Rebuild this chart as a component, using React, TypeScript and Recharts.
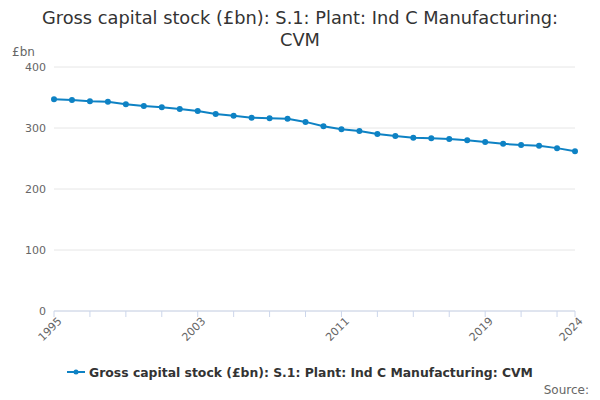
import { LineChart, Line, XAxis, YAxis, CartesianGrid } from "recharts";

const years = [
  1995, 1996, 1997, 1998, 1999, 2000, 2001, 2002, 2003, 2004, 2005, 2006, 2007, 2008, 2009,
  2010, 2011, 2012, 2013, 2014, 2015, 2016, 2017, 2018, 2019, 2020, 2021, 2022, 2023, 2024,
];
const values = [
  347, 346, 344, 343, 339, 336, 334, 331, 328, 323, 320, 317, 316, 315, 310,
  303, 298, 295, 290, 287, 284, 283, 282, 280, 277, 274, 272, 271, 267, 262,
];
const xTicks = [1995, 1997, 1999, 2001, 2003, 2005, 2007, 2009, 2011, 2013, 2015, 2017, 2019, 2021, 2023, 2024];
const labelled = [1995, 2003, 2011, 2019, 2024];
const yTicks = [0, 100, 200, 300, 400];

const data = years.map((y, i) => ({ year: y, value: values[i] }));
const font = "'DejaVu Sans', sans-serif";

const XTick = (props: any) => {
  const { x, y, payload } = props;
  if (!labelled.includes(payload.value)) return null;
  return (
    <g transform={`translate(${x},${y})`}>
      <text x={4} y={8} textAnchor="end" fill="#666" fontSize={11} transform="rotate(-45)" fontFamily={font}>
        {payload.value}
      </text>
    </g>
  );
};

export default function App() {
  return (
    <div style={{ position: "absolute", left: 0, top: 0, width: 600, height: 400, fontFamily: font }}>
      <div style={{ position: "absolute", top: 7, left: 0, width: 600, textAlign: "center", fontSize: 17.8, color: "#333", lineHeight: "22px" }}>
        Gross capital stock (£bn): S.1: Plant: Ind C Manufacturing:
        <br />
        CVM
      </div>
      <div style={{ position: "absolute", top: 45, left: 12, fontSize: 12, color: "#666" }}>£bn</div>
      <LineChart width={600} height={400} data={data} margin={{ top: 67, right: 25, left: 14, bottom: 59 }}>
        <CartesianGrid vertical={false} stroke="#e6e6e6" />
        <XAxis
          dataKey="year"
          type="number"
          domain={[1995, 2024]}
          ticks={xTicks}
          interval={0}
          tick={XTick}
          height={30}
          stroke="#ccd6eb"
          tickSize={6}
        />
        <YAxis
          domain={[0, 400]}
          ticks={yTicks}
          width={40}
          axisLine={false}
          tickLine={false}
          tick={{ fill: "#666", fontSize: 11, fontFamily: font }}
        />
        <Line
          dataKey="value"
          stroke="#0e82c4"
          strokeWidth={2}
          dot={{ r: 2, fill: "#0e82c4", stroke: "#0e82c4" }}
          isAnimationActive={false}
        />
      </LineChart>
      <div style={{ position: "absolute", top: 365, left: 0, width: 600, textAlign: "center", fontSize: 12.4, fontWeight: "bold", color: "#333" }}>
        <svg width={18} height={10} style={{ marginRight: 4 }}>
          <line x1={0} y1={5} x2={18} y2={5} stroke="#0e82c4" strokeWidth={2} />
          <circle cx={9} cy={5} r={2.5} fill="#0e82c4" />
        </svg>
        Gross capital stock (£bn): S.1: Plant: Ind C Manufacturing: CVM
      </div>
      <div style={{ position: "absolute", top: 383, right: 11, fontSize: 12, color: "#666" }}>Source:</div>
    </div>
  );
}
